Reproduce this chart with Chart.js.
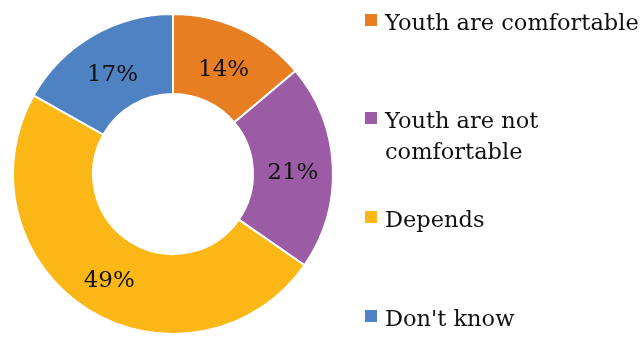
<!DOCTYPE html>
<html>
<head>
<meta charset="utf-8">
<script src="https://cdn.jsdelivr.net/npm/chart.js@4"></script>
<style>
  html, body { margin: 0; padding: 0; background: #fff; }
  #wrap { position: relative; width: 643px; height: 337px; }
  #c { position: absolute; left: 0; top: 0; }
  .leg { position: absolute; left: 385px; font-family: "DejaVu Serif", serif; font-size: 22.5px; color: #111; line-height: 31px; white-space: nowrap; }
  .sw { position: absolute; left: -20px; width: 12px; height: 12px; top: 7px; }
</style>
</head>
<body>
<div id="wrap">
  <canvas id="c" width="643" height="337"></canvas>
  <div id="legend"></div>
</div>
<script>
const categories = ["Youth are comfortable", "Youth are not comfortable", "Depends", "Don't know"];
const legendLines = [["Youth are comfortable"], ["Youth are not", "comfortable"], ["Depends"], ["Don't know"]];
const values = [14, 21, 49, 17];
const valueLabels = ["14%", "21%", "49%", "17%"];
const colors = ["#E77E22", "#9B5BA5", "#FBB715", "#4F82C2"];
const legendTops = [7, 105, 204, 303];

const labelPlugin = {
  id: 'sliceLabels',
  afterDatasetsDraw(chart) {
    const ctx = chart.ctx;
    const meta = chart.getDatasetMeta(0);
    ctx.save();
    ctx.font = '23px "DejaVu Serif", serif';
    ctx.fillStyle = '#111';
    ctx.textAlign = 'center';
    ctx.textBaseline = 'middle';
    meta.data.forEach((arc, i) => {
      const p = arc.tooltipPosition();
      ctx.fillText(valueLabels[i], p.x, p.y + 5);
    });
    ctx.restore();
  }
};

new Chart(document.getElementById('c'), {
  type: 'doughnut',
  data: {
    labels: categories,
    datasets: [{
      data: values,
      backgroundColor: colors,
      borderColor: '#ffffff',
      borderWidth: 2
    }]
  },
  options: {
    responsive: false,
    animation: false,
    cutout: '50%',
    layout: { padding: { left: 12, right: 309, top: 13, bottom: 2 } },
    plugins: { legend: { display: false }, tooltip: { enabled: false } }
  },
  plugins: [labelPlugin]
});

const leg = document.getElementById('legend');
legendLines.forEach((lines, i) => {
  const d = document.createElement('div');
  d.className = 'leg';
  d.style.top = legendTops[i] + 'px';
  const sw = document.createElement('div');
  sw.className = 'sw';
  sw.style.background = colors[i];
  d.appendChild(sw);
  d.innerHTML += lines.join('<br>');
  leg.appendChild(d);
});
</script>
</body>
</html>
